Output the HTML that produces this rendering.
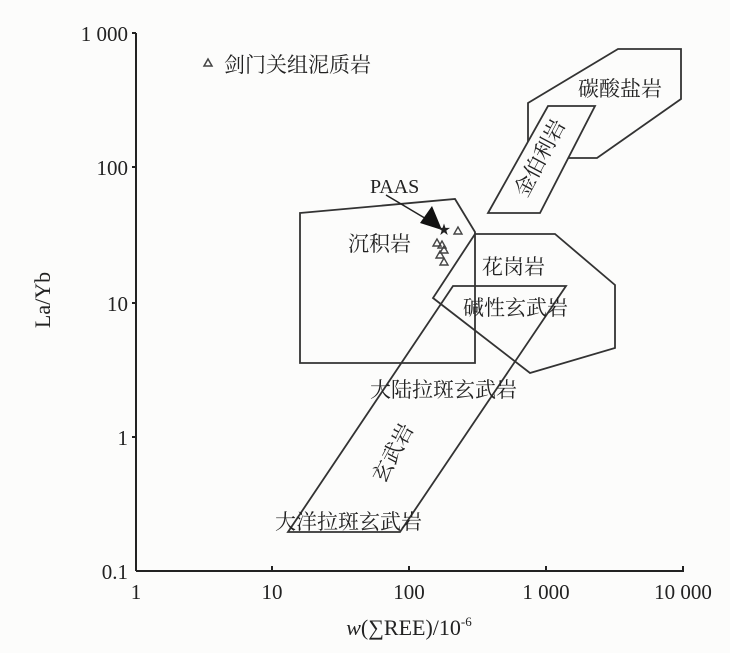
<!DOCTYPE html>
<html><head><meta charset="utf-8"><style>
body{margin:0;background:#fcfcfb;}
svg{display:block;}
text{font-family:"Liberation Serif","Noto Serif CJK SC",serif;fill:#222;}
.c{font-family:"Liberation Serif","Noto Serif CJK SC","Noto Sans CJK SC",serif;font-size:21px;}
</style></head><body>
<svg width="730" height="653" viewBox="0 0 730 653" xmlns="http://www.w3.org/2000/svg">
<rect width="730" height="653" fill="#fcfcfb"/>
<g fill="none" stroke="#333" stroke-width="1.8" stroke-linejoin="miter">
<polygon points="528,103 618,49 681,49 681,99 597,158 567,158 528,143"/>
<polygon points="548,106 595,106 540,213 488,213" fill="#fcfcfb"/>
<polygon points="300,213 455,199 475,232 475,363 300,363"/>
<polygon points="475,234 555,234 615,285 615,348 530,373 433,298"/>
<polygon points="453,286 566,286 400,532 288,532"/>
</g>
<g stroke="#222" stroke-width="2" fill="none">
<line x1="136" y1="33" x2="136" y2="571"/>
<line x1="136" y1="571" x2="684" y2="571"/>
<line x1="132" y1="33" x2="136" y2="33"/><line x1="132" y1="167" x2="136" y2="167"/><line x1="132" y1="303" x2="136" y2="303"/><line x1="132" y1="437" x2="136" y2="437"/>
<line x1="272" y1="566" x2="272" y2="571"/><line x1="409" y1="566" x2="409" y2="571"/><line x1="546" y1="566" x2="546" y2="571"/><line x1="683" y1="566" x2="683" y2="571"/>
</g>
<g font-size="21" text-anchor="end">
<text x="128" y="41">1 000</text><text x="128" y="175">100</text><text x="128" y="311">10</text><text x="128" y="445">1</text><text x="128" y="579">0.1</text>
</g>
<g font-size="21" text-anchor="middle">
<text x="136" y="599">1</text><text x="272" y="599">10</text><text x="409" y="599">100</text><text x="546" y="599">1 000</text><text x="683" y="599">10 000</text>
</g>
<text x="409" y="635" font-size="22" text-anchor="middle"><tspan font-style="italic">w</tspan>(∑REE)/10<tspan font-size="13" dy="-9">-6</tspan></text>
<text transform="translate(50,300) rotate(-90)" font-size="22" text-anchor="middle">La/Yb</text>
<polygon points="208,59 204,66 212,66" fill="none" stroke="#444" stroke-width="1.5"/>
<text class="c" x="224" y="72">剑门关组泥质岩</text>
<line x1="386" y1="195" x2="428" y2="220" stroke="#222" stroke-width="1.5"/>
<polygon points="420,223 432,206 442,230" fill="#111"/>
<text x="370" y="193" font-size="20">PAAS</text>
<text x="444" y="234" font-size="13" text-anchor="middle">★</text>
<g fill="none" stroke="#444" stroke-width="1.4">
<polygon points="458,227 454,234 462,234"/>
<polygon points="437,239 433,246 441,246"/>
<polygon points="442,241 438,248 446,248"/>
<polygon points="444,246 440,253 448,253"/>
<polygon points="440,251 436,258 444,258"/>
<polygon points="444,258 440,265 448,265"/>
</g>
<text class="c" x="348" y="251">沉积岩</text>
<text class="c" x="482" y="274">花岗岩</text>
<text class="c" x="463" y="315">碱性玄武岩</text>
<text class="c" x="370" y="397">大陆拉斑玄武岩</text>
<text class="c" x="275" y="529">大洋拉斑玄武岩</text>
<text class="c" x="578" y="96">碳酸盐岩</text>
<text class="c" transform="translate(393,453) rotate(-62)" text-anchor="middle" dy="7">玄武岩</text>
<text class="c" transform="translate(540,158) rotate(-62)" text-anchor="middle" dy="7">金伯利岩</text>
</svg>
</body></html>
